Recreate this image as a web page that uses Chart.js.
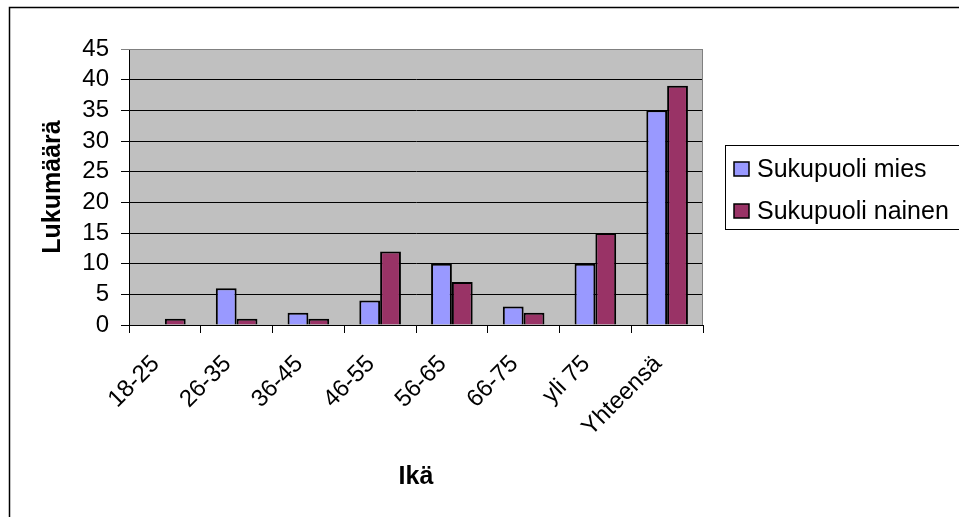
<!DOCTYPE html>
<html>
<head>
<meta charset="utf-8">
<script src="https://cdn.jsdelivr.net/npm/chart.js@4/dist/chart.umd.min.js"></script>
<style>
  html, body { margin: 0; padding: 0; background: #fff; }
  #wrap { width: 959px; height: 517px; }
</style>
</head>
<body>
<div id="wrap"><canvas id="c" width="959" height="517"></canvas></div>
<script>
// Age groups and counts per gender
const categories = ['18-25', '26-35', '36-45', '46-55', '56-65', '66-75', 'yli 75', 'Yhteensä'];
const mies = [0, 6, 2, 4, 10, 3, 10, 35];
const nainen = [1, 1, 1, 12, 7, 2, 15, 39];
const seriesNames = ['Sukupuoli mies', 'Sukupuoli nainen'];
const seriesColors = ['#9999FF', '#993366'];
const yTicks = { min: 0, max: 45, step: 5 };

const FONT = "'Liberation Sans', Arial, sans-serif";

// Page frame, grey plot background and plot border
const backdrop = {
  id: 'backdrop',
  beforeDraw(chart) {
    const { ctx, chartArea: a } = chart;
    ctx.save();
    ctx.fillStyle = '#fff';
    ctx.fillRect(0, 0, chart.width, chart.height);
    ctx.strokeStyle = '#000';
    ctx.lineWidth = 1.5;
    ctx.strokeRect(9.5, 7.5, 2000, 2000);
    ctx.fillStyle = '#C0C0C0';
    ctx.fillRect(a.left, a.top, a.right - a.left, a.bottom - a.top);
    ctx.restore();
  },
  beforeDatasetsDraw(chart) {
    const { ctx, chartArea: a } = chart;
    ctx.save();
    ctx.strokeStyle = '#808080';
    ctx.lineWidth = 1;
    ctx.beginPath();
    ctx.moveTo(a.left, a.top + 0.5);
    ctx.lineTo(a.right - 0.5, a.top + 0.5);
    ctx.lineTo(a.right - 0.5, a.bottom);
    ctx.stroke();
    ctx.restore();
  }
};

// Boxed legend on the right
const boxLegend = {
  id: 'boxLegend',
  afterDraw(chart) {
    const { ctx } = chart;
    const x0 = 725, y0 = 145, w = 260, h = 84;
    ctx.save();
    ctx.strokeStyle = '#000';
    ctx.lineWidth = 1;
    ctx.strokeRect(x0 + 0.5, y0 + 0.5, w, h);
    ctx.font = '25px ' + FONT;
    ctx.textBaseline = 'middle';
    ctx.textAlign = 'left';
    chart.data.datasets.forEach((ds, i) => {
      const cy = 169 + i * 42;
      ctx.fillStyle = ds.backgroundColor;
      ctx.fillRect(734, cy - 7, 15, 14);
      ctx.strokeStyle = '#000';
      ctx.lineWidth = 1.5;
      ctx.strokeRect(734, cy - 7, 15, 14);
      ctx.fillStyle = '#000';
      ctx.fillText(ds.label, 757, cy + 1);
    });
    ctx.restore();
  }
};

new Chart(document.getElementById('c'), {
  type: 'bar',
  data: {
    labels: categories,
    datasets: [
      { label: seriesNames[0], data: mies, backgroundColor: seriesColors[0] },
      { label: seriesNames[1], data: nainen, backgroundColor: seriesColors[1] }
    ]
  },
  options: {
    responsive: false,
    animation: false,
    layout: { padding: { left: 0, top: 49, right: 256, bottom: 0 } },
    datasets: {
      bar: {
        borderColor: '#000',
        borderWidth: 2,
        categoryPercentage: 0.58,
        barPercentage: 1
      }
    },
    plugins: {
      legend: { display: false },
      tooltip: { enabled: false }
    },
    scales: {
      x: {
        afterFit(s) { s.height = 192; },
        grid: {
          offset: true,
          drawOnChartArea: false,
          drawTicks: true,
          tickLength: 8,
          color: '#000'
        },
        border: { color: '#000', width: 1 },
        ticks: {
          color: '#000',
          font: { family: FONT, size: 24 },
          minRotation: 45,
          maxRotation: 45,
          padding: 17,
          labelOffset: -9,
          autoSkip: false
        },
        title: {
          display: true,
          text: 'Ikä',
          color: '#000',
          font: { family: FONT, size: 25, weight: 'bold' },
          padding: { top: 0, bottom: 25 }
        }
      },
      y: {
        min: yTicks.min,
        max: yTicks.max,
        afterFit(s) { s.width = 129; },
        grid: {
          color: (c) => (c.tick && c.tick.value === yTicks.max ? '#808080' : '#000'),
          tickLength: 8,
          lineWidth: 1
        },
        border: { color: '#000', width: 1 },
        ticks: {
          stepSize: yTicks.step,
          autoSkip: false,
          color: '#000',
          font: { family: FONT, size: 24 },
          padding: 12
        },
        title: {
          display: true,
          text: 'Lukumäärä',
          color: '#000',
          font: { family: FONT, size: 25, weight: 'bold' },
          padding: { top: 38, bottom: 0 }
        }
      }
    }
  },
  plugins: [backdrop, boxLegend]
});
</script>
</body>
</html>
